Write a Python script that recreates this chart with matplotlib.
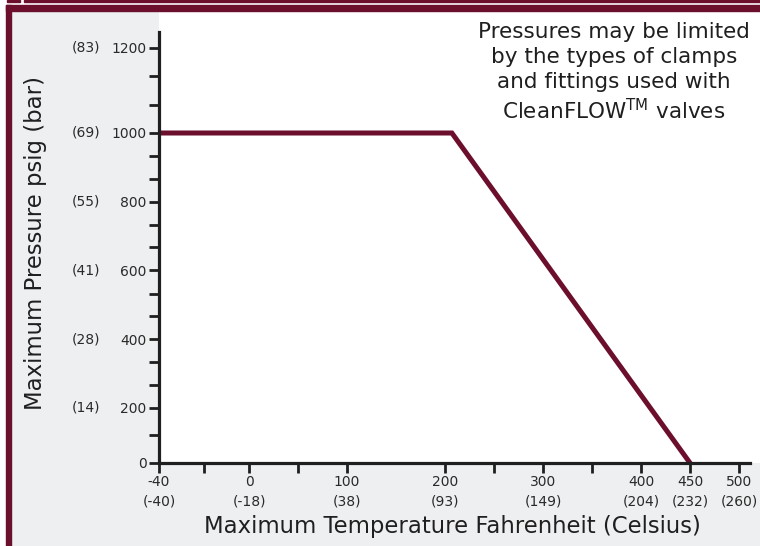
import numpy as np
import matplotlib
matplotlib.use('Agg')
import matplotlib.pyplot as plt
from matplotlib.patches import Rectangle

# pressure / temperature rating (deg F, psig)
temp_f = [-40, 207, 450]
pressure = [1000, 1000, 0]

x_ticks = [-40, 0, 100, 200, 300, 400, 450, 500]
x_celsius = ['(-40)', '(-18)', '(38)', '(93)', '(149)', '(204)', '(232)', '(260)']
x_minor = [-20, 50, 250, 350]

y_ticks = [0, 200, 400, 600, 800, 1000, 1200]
y_bar = ['', '(14)', '(28)', '(41)', '(55)', '(69)', '(83)']
y_minor = [100, 267, 333, 467, 533, 667, 733, 867, 933, 1067, 1133]

note = 'Pressures may be limited\nby the types of clamps\nand fittings used with\nCleanFLOW$^{\\mathrm{TM}}$ valves'

maroon = '#6b0f2c'
ink = '#1f1f1f'
grey_bg = '#eeeff1'

# the original chart is not drawn to scale, so use piecewise linear axes
x_knots = [-100, -40, 0, 600]
x_pos = [-135, 0, 90, 678]
y_knots = [-200, 0, 200, 1000, 1200, 1400]
y_pos = [-54, 0, 55, 330, 415, 500]

W, H = 760, 546
fig = plt.figure(figsize=(W / 100, H / 100), dpi=100)
fig.patch.set_facecolor('white')

# frame and grey background
fig.patches.append(Rectangle((11 / W, 0), 1 - 11 / W, 1 - 11 / H, transform=fig.transFigure,
                             color=grey_bg, zorder=-1))
fig.patches.append(Rectangle((6 / W, 1 - 11 / H), 1 - 6 / W, 6 / H, transform=fig.transFigure,
                             color=maroon, zorder=5))
fig.patches.append(Rectangle((6 / W, 0), 5 / W, 1 - 5 / H, transform=fig.transFigure,
                             color=maroon, zorder=5))
fig.patches.append(Rectangle((7 / W, 1 - 2 / H), 13 / W, 2 / H, transform=fig.transFigure,
                             color=maroon, zorder=5))
fig.patches.append(Rectangle((24 / W, 1 - 2 / H), 1 - 24 / W, 2 / H, transform=fig.transFigure,
                             color=maroon, zorder=5))

ax = fig.add_axes([159 / W, (H - 463) / H, (W - 159) / W, (463 - 12) / H])
ax.set_facecolor('white')

ax.set_xscale('function', functions=(lambda v: np.interp(v, x_knots, x_pos),
                                     lambda p: np.interp(p, x_pos, x_knots)))
ax.set_yscale('function', functions=(lambda v: np.interp(v, y_knots, y_pos),
                                     lambda p: np.interp(p, y_pos, y_knots)))

ax.plot(temp_f, pressure, color=maroon, lw=3.6, solid_joinstyle='miter', zorder=2)

ax.set_xlim(-40, 521.4)
ax.set_ylim(0, 1284.7)

for side in ['top', 'right']:
    ax.spines[side].set_visible(False)
for side in ['left', 'bottom']:
    ax.spines[side].set_linewidth(2.3)
    ax.spines[side].set_color(ink)
ax.spines['left'].set_bounds(0, 1238)
ax.spines['bottom'].set_bounds(-40, 511)

ax.set_xticks(x_ticks)
ax.set_xticklabels([f'{t}\n{c}' for t, c in zip(x_ticks, x_celsius)], linespacing=1.45)
ax.set_xticks(x_minor, minor=True)
ax.set_yticks(y_ticks)
ax.set_yticklabels([str(v) for v in y_ticks])
ax.set_yticks(y_minor, minor=True)
ax.tick_params(axis='both', which='both', direction='out', length=7.5, width=2,
               color=ink, labelsize=10, labelcolor='#2a2a2a', pad=1.5)

for v, b in zip(y_ticks, y_bar):
    if b:
        ax.text(-0.145, v, b, transform=ax.get_yaxis_transform(), ha='left', va='center',
                fontsize=10, color='#2a2a2a')

fig.text(36 / W, 1 - 243 / H, 'Maximum Pressure psig (bar)', rotation=90, ha='center',
         va='center', fontsize=16.4, color=ink)
fig.text(452 / W, 1 - 527 / H, 'Maximum Temperature Fahrenheit (Celsius)', ha='center',
         va='center', fontsize=16.4, color=ink)
fig.text(614 / W, 1 - 22 / H, note, ha='center', va='top', multialignment='center',
         fontsize=15.5, linespacing=1.3, color=ink)

fig.savefig('out.png', dpi=100, facecolor=fig.get_facecolor())
